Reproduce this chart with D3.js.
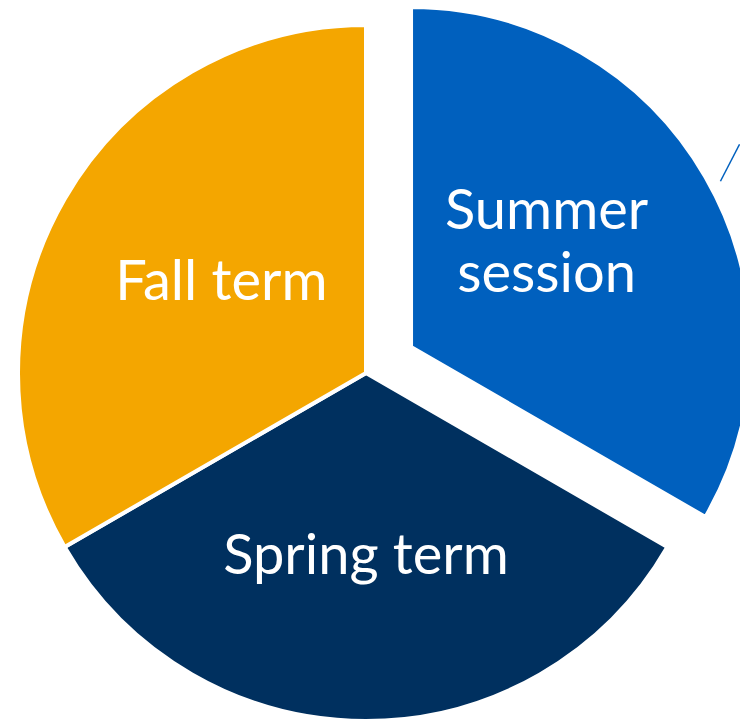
<!DOCTYPE html>
<html>
<head>
<meta charset="utf-8">
<script src="https://cdn.jsdelivr.net/npm/d3@7"></script>
<style>
  html, body { margin: 0; padding: 0; background: #fff; }
  svg { display: block; }
</style>
</head>
<body>
<div id="chart"></div>
<script>
// slices in drawing order, clockwise from 12 o'clock
var categories = ["Summer session", "Spring term", "Fall term"];
var labelLines = [["Summer", "session"], ["Spring term"], ["Fall term"]];
var values = [1, 1, 1];
var colors = ["#0060be", "#00305f", "#f4a600"];

function init(){
	var w = 740;
	var h = 722;
	var cx = 366, cy = 373;
	var r = 348;
	var explodeR = 340;    // the pulled out slice is drawn a little smaller
	var explodeBy = 52;
	var fontSize = 56;
	// small hand nudges so labels sit where the original put them
	var nudge = [[-16, -19], [0, 6], [7, -6]];

	var svg = d3.select("#chart")
				.append("svg")
				.attr("width", w)
				.attr("height", h);

	var pie = d3.pie()
				.sort(null)
				.value(function(d){ return d; });

	var arcs = pie(values);

	var arc = d3.arc().innerRadius(0);
	var labelArc = d3.arc().innerRadius(175).outerRadius(175);

	var g = svg.append("g")
				.attr("transform", "translate(" + cx + "," + cy + ")");

	var slice = g.selectAll("g.slice")
		.data(arcs)
		.enter()
		.append("g")
		.attr("class", "slice")
		.attr("transform", function(d, i){
			if(i == 0){
				var mid = (d.startAngle + d.endAngle) / 2;
				return "translate(" + (Math.sin(mid) * explodeBy) + "," + (-Math.cos(mid) * explodeBy) + ")";
			}
			return null;
		});

	slice.append("path")
		.attr("d", function(d, i){
			return arc.outerRadius(i == 0 ? explodeR : r)(d);
		})
		.attr("fill", function(d, i){ return colors[i]; })
		.attr("stroke", "#fff")
		.attr("stroke-width", 4)
		.attr("stroke-linejoin", "miter");

	// thin leader line going off the right edge from the summer slice
	var r0 = 351, r1 = 386;
	slice.filter(function(d, i){ return i == 0; })
		.append("line")
		.attr("x1", Math.sin(1.079) * r0)
		.attr("y1", -Math.cos(1.079) * r0)
		.attr("x2", Math.sin(1.018) * r1)
		.attr("y2", -Math.cos(1.018) * r1)
		.attr("stroke", "#0060be")
		.attr("stroke-width", 1.5);

	var text = slice.append("text")
		.attr("transform", function(d, i){
			var c = labelArc.centroid(d);
			return "translate(" + (c[0] + nudge[i][0]) + "," + (c[1] + nudge[i][1]) + ")";
		})
		.attr("text-anchor", "middle")
		.attr("fill", "#fff")
		.style("font-family", "Lato, 'Open Sans', sans-serif")
		.style("font-size", fontSize + "px");

	text.selectAll("tspan")
		.data(function(d, i){ return labelLines[i]; })
		.enter()
		.append("tspan")
		.attr("x", 0)
		.attr("y", function(d, i, nodes){
			var n = nodes.length;
			return (i - (n - 1) / 2) * 63 + fontSize * 0.36;
		})
		.text(function(d){ return d; });
}

window.onload = init;
</script>
</body>
</html>
